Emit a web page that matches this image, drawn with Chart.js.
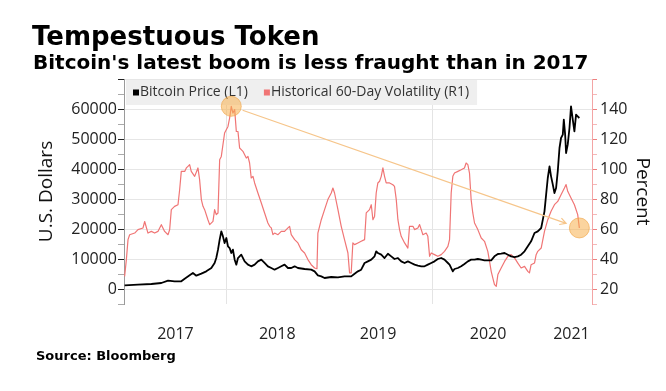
<!DOCTYPE html>
<html>
<head>
<meta charset="utf-8">
<script src="https://cdn.jsdelivr.net/npm/chart.js@4.4.0/dist/chart.umd.min.js"></script>
<style>
  html, body { margin: 0; padding: 0; background: #fff; }
  #wrap { position: relative; width: 666px; height: 391px; overflow: hidden; }
  #chart { position: absolute; left: 0; top: 0; }
  .txt { position: absolute; font-family: "DejaVu Sans", sans-serif; font-weight: bold; color: #000; line-height: 1; white-space: nowrap; }
  #title { left: 32px; top: 23px; font-size: 26px; }
  #subtitle { left: 33px; top: 52px; font-size: 20px; }
  #source { left: 36px; top: 349px; font-size: 13px; }
</style>
</head>
<body>
<div id="wrap">
  <canvas id="chart" width="666" height="391"></canvas>
  <div class="txt" id="title">Tempestuous Token</div>
  <div class="txt" id="subtitle">Bitcoin's latest boom is less fraught than in 2017</div>
  <div class="txt" id="source">Source: Bloomberg</div>
</div>
<script>
// values, x in decimal years
const yearLabels = ['2017', '2018', '2019', '2020', '2021'];
const yearLabelPos = [2017.5, 2018.49, 2019.47, 2020.54, 2021.35];
const yearGrid = [2018, 2020];

const priceDates = [
  2017.006, 2017.136, 2017.266, 2017.363, 2017.428, 2017.492, 2017.557, 2017.590, 2017.638, 2017.670,
  2017.703, 2017.752, 2017.800, 2017.849, 2017.881, 2017.897, 2017.914, 2017.930, 2017.946, 2017.962,
  2017.978, 2017.995, 2018.011, 2018.027, 2018.043, 2018.059, 2018.076, 2018.092, 2018.108, 2018.140,
  2018.173, 2018.205, 2018.237, 2018.270, 2018.302, 2018.335, 2018.367, 2018.399, 2018.432, 2018.464,
  2018.497, 2018.529, 2018.561, 2018.594, 2018.626, 2018.659, 2018.691, 2018.756, 2018.820, 2018.853,
  2018.885, 2018.918, 2018.950, 2019.015, 2019.080, 2019.144, 2019.209, 2019.242, 2019.274, 2019.306,
  2019.339, 2019.371, 2019.404, 2019.436, 2019.452, 2019.468, 2019.501, 2019.533, 2019.566, 2019.598,
  2019.630, 2019.663, 2019.695, 2019.728, 2019.760, 2019.792, 2019.825, 2019.857, 2019.890, 2019.922,
  2019.954, 2019.987, 2020.019, 2020.051, 2020.084, 2020.116, 2020.149, 2020.165, 2020.197, 2020.213,
  2020.246, 2020.278, 2020.310, 2020.343, 2020.375, 2020.408, 2020.440, 2020.473, 2020.505, 2020.570,
  2020.602, 2020.635, 2020.667, 2020.700, 2020.732, 2020.764, 2020.797, 2020.829, 2020.861, 2020.894,
  2020.926, 2020.958, 2020.991, 2021.023, 2021.056, 2021.072, 2021.088, 2021.104, 2021.120, 2021.137,
  2021.152, 2021.169, 2021.185, 2021.201, 2021.217, 2021.234, 2021.249, 2021.266, 2021.276, 2021.289,
  2021.298, 2021.314, 2021.331, 2021.346, 2021.363, 2021.379, 2021.395, 2021.411, 2021.427
];
const priceValues = [
  1220, 1440, 1670, 2000, 2780, 2560, 2560, 3440, 4560, 5330,
  4440, 5110, 5890, 7000, 8670, 10330, 13110, 16440, 19220, 17550,
  15330, 17000, 14220, 13660, 12000, 13110, 9780, 8110, 10330, 11440,
  9220, 8110, 7560, 8110, 9220, 9780, 8670, 7560, 7000, 6440,
  7000, 7560, 8110, 7000, 7000, 7560, 7000, 6670, 6440, 5890,
  4560, 4220, 3670, 4000, 3890, 4220, 4220, 5110, 5890, 6440,
  8670, 9220, 9780, 10890, 12550, 12000, 11440, 10330, 11770, 10890,
  10000, 10330, 9220, 8670, 9220, 8670, 8110, 7780, 7560, 7560,
  8110, 8670, 9220, 10000, 10330, 9780, 8670, 8110, 5890, 6670,
  7000, 7560, 8330, 9220, 9780, 9780, 10000, 9780, 9560, 9560,
  10890, 11670, 11780, 12000, 11440, 10890, 10660, 10890, 11440, 12550,
  14220, 15890, 18660, 19220, 20330, 23110, 25890, 31440, 37000, 40890,
  37550, 34780, 32000, 33660, 39220, 47000, 50330, 51440, 56440, 51440,
  45330, 48100, 53660, 60880, 56440, 52550, 58100, 57550, 57000
];

const volDates = [
  2017.006, 2017.023, 2017.039, 2017.055, 2017.104, 2017.136, 2017.185, 2017.201, 2017.233, 2017.266,
  2017.298, 2017.330, 2017.363, 2017.395, 2017.428, 2017.444, 2017.460, 2017.492, 2017.525, 2017.541,
  2017.557, 2017.590, 2017.606, 2017.622, 2017.638, 2017.654, 2017.687, 2017.719, 2017.735, 2017.752,
  2017.768, 2017.784, 2017.816, 2017.833, 2017.865, 2017.881, 2017.897, 2017.914, 2017.930, 2017.946,
  2017.978, 2018.011, 2018.027, 2018.043, 2018.059, 2018.076, 2018.092, 2018.108, 2018.124, 2018.140,
  2018.156, 2018.189, 2018.205, 2018.221, 2018.237, 2018.254, 2018.270, 2018.302, 2018.335, 2018.367,
  2018.399, 2018.416, 2018.432, 2018.448, 2018.464, 2018.497, 2018.529, 2018.561, 2018.594, 2018.610,
  2018.626, 2018.659, 2018.691, 2018.723, 2018.756, 2018.788, 2018.820, 2018.853, 2018.876, 2018.885,
  2018.918, 2018.950, 2018.982, 2019.015, 2019.031, 2019.047, 2019.080, 2019.112, 2019.144, 2019.177,
  2019.193, 2019.209, 2019.225, 2019.242, 2019.274, 2019.306, 2019.339, 2019.355, 2019.387, 2019.404,
  2019.420, 2019.436, 2019.452, 2019.468, 2019.485, 2019.501, 2019.517, 2019.533, 2019.549, 2019.582,
  2019.614, 2019.630, 2019.647, 2019.663, 2019.679, 2019.695, 2019.728, 2019.760, 2019.776, 2019.809,
  2019.825, 2019.857, 2019.874, 2019.890, 2019.906, 2019.938, 2019.954, 2019.971, 2019.987, 2020.019,
  2020.051, 2020.084, 2020.116, 2020.149, 2020.165, 2020.181, 2020.197, 2020.213, 2020.246, 2020.278,
  2020.310, 2020.326, 2020.343, 2020.359, 2020.375, 2020.391, 2020.408, 2020.440, 2020.473, 2020.505,
  2020.537, 2020.554, 2020.570, 2020.586, 2020.602, 2020.619, 2020.635, 2020.667, 2020.700, 2020.732,
  2020.764, 2020.797, 2020.829, 2020.861, 2020.894, 2020.926, 2020.942, 2020.958, 2020.991, 2021.007,
  2021.023, 2021.056, 2021.088, 2021.120, 2021.152, 2021.185, 2021.217, 2021.249, 2021.282, 2021.298,
  2021.314, 2021.346, 2021.379, 2021.411, 2021.427
];
const volValues = [
  28.4, 39.6, 52.9, 56.2, 57.3, 59.6, 60.7, 65.0, 57.3, 58.4,
  57.3, 58.4, 62.9, 58.4, 56.2, 59.6, 72.9, 75.1, 76.2, 86.2,
  98.4, 98.4, 100.7, 101.8, 102.9, 98.4, 95.1, 100.7, 92.9, 79.6,
  75.1, 72.9, 66.2, 62.9, 65.1, 72.9, 69.6, 70.7, 106.2, 108.4,
  124.0, 128.4, 134.0, 141.8, 137.3, 139.6, 125.1, 125.0, 114.0, 112.9,
  111.8, 107.3, 108.4, 104.0, 94.0, 95.1, 90.7, 84.0, 77.3, 70.7,
  64.0, 61.8, 60.7, 56.2, 57.3, 56.2, 58.4, 58.4, 60.7, 61.8,
  56.2, 52.9, 50.7, 46.2, 44.0, 39.6, 36.2, 34.0, 33.5, 57.3,
  66.2, 72.9, 79.6, 84.0, 87.3, 84.0, 72.9, 61.8, 52.9, 44.0,
  30.7, 30.7, 50.7, 49.6, 50.7, 51.8, 52.9, 70.7, 72.9, 76.2,
  66.2, 68.4, 84.0, 90.7, 91.8, 95.1, 100.7, 95.1, 90.7, 90.7,
  89.5, 88.4, 79.6, 66.2, 59.6, 55.1, 50.7, 47.3, 61.8, 61.8,
  59.6, 60.7, 62.9, 59.6, 56.2, 57.3, 55.1, 41.8, 44.0, 42.9,
  41.8, 42.9, 45.1, 48.4, 52.9, 84.0, 95.1, 97.3, 98.4, 99.5,
  100.7, 104.0, 102.9, 97.3, 79.6, 70.7, 64.0, 59.6, 54.0, 51.8,
  45.1, 38.4, 31.8, 27.3, 22.9, 21.8, 29.6, 34.0, 38.4, 41.8,
  42.9, 40.7, 37.3, 34.0, 35.1, 31.8, 30.7, 36.2, 37.3, 42.9,
  45.1, 47.3, 58.4, 66.2, 71.8, 76.2, 78.4, 82.9, 87.3, 89.6,
  85.1, 80.7, 76.2, 69.6, 60.7
];

const seriesNames = ['Bitcoin Price (L1)', 'Historical 60-Day Volatility (R1)'];
const seriesColors = ['#000000', '#f07575'];

Chart.defaults.font.family = '"Open Sans", sans-serif';
Chart.defaults.color = '#222';

// legend box drawn under the lines, like the Bloomberg one
const legendBox = {
  id: 'legendBox',
  beforeDatasetsDraw(chart) {
    const { ctx, chartArea } = chart;
    const x0 = chartArea.left + 2, y0 = chartArea.top + 1, h = 25;
    ctx.save();
    ctx.font = '14px "Open Sans", sans-serif';
    const w1 = ctx.measureText(seriesNames[0]).width;
    const w2 = ctx.measureText(seriesNames[1]).width;
    const boxW = 7 + 7 + w1 + 16 + 7 + w2 + 8;
    ctx.fillStyle = '#efefef';
    ctx.fillRect(x0, y0, boxW, h);
    ctx.textBaseline = 'middle';
    let x = x0 + 7;
    const cy = y0 + h / 2;
    seriesNames.forEach((name, i) => {
      ctx.fillStyle = seriesColors[i];
      ctx.fillRect(x, cy - 3, 6, 6);
      ctx.fillStyle = '#333';
      ctx.fillText(name, x + 7, cy);
      x += 7 + (i === 0 ? w1 : w2) + 16;
    });
    ctx.restore();
  }
};

// circles on the 2018 peak and on the latest reading, with an arrow between
const callout = {
  id: 'callout',
  afterDatasetsDraw(chart) {
    const { ctx, scales } = chart;
    const iPeak = volValues.indexOf(Math.max(...volValues));
    const iLast = volValues.length - 1;
    const pt = i => ({ x: scales.x.getPixelForValue(volDates[i]), y: scales.yR.getPixelForValue(volValues[i]) });
    const a = pt(iPeak), b = pt(iLast);
    const r = 10;
    ctx.save();
    [a, b].forEach(p => {
      ctx.beginPath();
      ctx.arc(p.x, p.y, r, 0, Math.PI * 2);
      ctx.fillStyle = 'rgba(248,176,78,0.55)';
      ctx.fill();
      ctx.lineWidth = 1;
      ctx.strokeStyle = 'rgba(240,160,60,0.6)';
      ctx.stroke();
    });
    const dx = b.x - a.x, dy = b.y - a.y, len = Math.hypot(dx, dy);
    const ux = dx / len, uy = dy / len;
    const sx = a.x + ux * 12, sy = a.y + uy * 12;
    const ex = b.x - ux * 14, ey = b.y - uy * 14;
    ctx.strokeStyle = '#f6c58a';
    ctx.lineWidth = 1.2;
    ctx.beginPath();
    ctx.moveTo(sx, sy);
    ctx.lineTo(ex, ey);
    const ang = Math.atan2(dy, dx), hl = 7;
    ctx.moveTo(ex - hl * Math.cos(ang - 0.5), ey - hl * Math.sin(ang - 0.5));
    ctx.lineTo(ex, ey);
    ctx.lineTo(ex - hl * Math.cos(ang + 0.5), ey - hl * Math.sin(ang + 0.5));
    ctx.stroke();
    ctx.restore();
  }
};

new Chart(document.getElementById('chart'), {
  type: 'line',
  data: {
    datasets: [
      {
        label: seriesNames[0],
        data: priceDates.map((d, i) => ({ x: d, y: priceValues[i] })),
        borderColor: seriesColors[0],
        borderWidth: 1.8,
        yAxisID: 'yL'
      },
      {
        label: seriesNames[1],
        data: volDates.map((d, i) => ({ x: d, y: volValues[i] })),
        borderColor: seriesColors[1],
        borderWidth: 1.2,
        yAxisID: 'yR'
      }
    ]
  },
  options: {
    responsive: false,
    animation: false,
    devicePixelRatio: 1,
    layout: { padding: { top: 79, left: 0, right: 0, bottom: 0 } },
    elements: { point: { radius: 0 }, line: { tension: 0, borderJoinStyle: 'round' } },
    plugins: { legend: { display: false }, tooltip: { enabled: false } },
    scales: {
      xg: {
        type: 'linear', position: 'bottom', min: 2017, max: 2021.55,
        afterBuildTicks: s => { s.ticks = yearGrid.map(v => ({ value: v })); },
        afterFit: s => { s.height = 0; },
        ticks: { display: false },
        grid: { color: '#e4e4e4', drawTicks: false },
        border: { display: false }
      },
      x: {
        type: 'linear', position: 'bottom', min: 2017, max: 2021.55,
        afterBuildTicks: s => { s.ticks = yearLabelPos.map(v => ({ value: v })); },
        afterFit: s => { s.height = 87; },
        ticks: {
          autoSkip: false, maxRotation: 0, padding: 21,
          font: { size: 16 }, color: '#222',
          callback: (v, i) => yearLabels[i]
        },
        grid: { display: false, drawTicks: false },
        border: { display: false }
      },
      yL: {
        type: 'linear', position: 'left', min: -5000, max: 70000,
        afterFit: s => { s.width = 124; },
        ticks: {
          stepSize: 5000, autoSkip: false, padding: 1,
          font: { size: 16 }, color: '#222',
          callback: v => (v % 10000 === 0 && v >= 0 && v < 70000) ? String(v) : ''
        },
        grid: {
          tickLength: 6,
          color: c => (c.tick && c.tick.value % 10000 === 0) ? '#e6e6e6' : 'rgba(0,0,0,0)',
          tickColor: c => (c.tick && c.tick.value % 10000 === 0) ? '#222' : '#aaa'
        },
        border: { display: true, color: '#9a9a9a' },
        title: { display: true, text: 'U.S. Dollars', font: { size: 19 }, color: '#111', padding: { top: 35, bottom: 0 } }
      },
      yR: {
        type: 'linear', position: 'right', min: 10, max: 160,
        afterFit: s => { s.width = 74; },
        ticks: {
          stepSize: 10, autoSkip: false, padding: 3,
          font: { size: 16 }, color: '#222',
          callback: v => (v % 20 === 0 && v >= 20 && v <= 140) ? String(v) : ''
        },
        grid: {
          drawOnChartArea: false, tickLength: 5,
          tickColor: c => (c.tick && c.tick.value % 20 === 0) ? '#ee8080' : '#f5b8b8'
        },
        border: { display: true, color: '#f3a5a5' },
        title: { display: true, text: 'Percent', font: { size: 19 }, color: '#111', padding: { top: 12, bottom: 0 } }
      }
    }
  },
  plugins: [legendBox, callout]
});
</script>
</body>
</html>
